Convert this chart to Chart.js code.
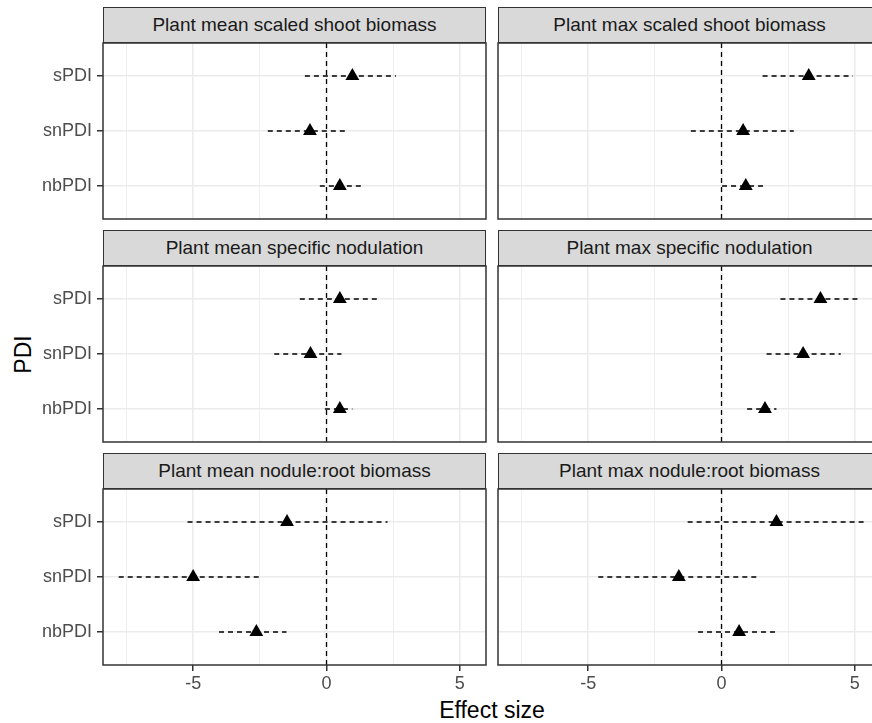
<!DOCTYPE html>
<html lang="en">
<head>
    <meta charset="UTF-8">
    <title>Effect size by PDI</title>
    <script src="https://cdn.jsdelivr.net/npm/chart.js"></script>
    <style>
        body {
            margin: 0;
            width: 872px;
            height: 723px;
            position: relative;
            overflow: hidden;
            background: #fff;
            font-family: "Liberation Sans", Arial, sans-serif;
        }
        canvas {
            position: absolute;
        }
        .strip {
            position: absolute;
            height: 36px;
            box-sizing: border-box;
            background: #D9D9D9;
            border: 1.5px solid #333;
            color: #1A1A1A;
            font-size: 19px;
            display: flex;
            align-items: center;
            justify-content: center;
            white-space: nowrap;
        }
        .xtitle {
            position: absolute;
            left: 392px;
            width: 200px;
            top: 699px;
            text-align: center;
            font-size: 23px;
            line-height: 23px;
            color: #000;
        }
        .ytitle {
            position: absolute;
            left: -27px;
            top: 343px;
            width: 100px;
            height: 23px;
            text-align: center;
            font-size: 23px;
            line-height: 23px;
            color: #000;
            transform: rotate(-90deg);
        }
    </style>
</head>
<body>
    <div class="xtitle">Effect size</div>
    <div class="ytitle">PDI</div>

    <script>
        // categories from bottom to top (y = 1, 2, 3)
        const categories = ['nbPDI', 'snPDI', 'sPDI'];

        const panelTitles = [
            'Plant mean scaled shoot biomass',
            'Plant max scaled shoot biomass',
            'Plant mean specific nodulation',
            'Plant max specific nodulation',
            'Plant mean nodule:root biomass',
            'Plant max nodule:root biomass'
        ];

        // one row per panel, values in category order: nbPDI, snPDI, sPDI
        const pointEst = [
            [0.50, -0.62, 0.97],
            [0.91, 0.81, 3.27],
            [0.50, -0.60, 0.50],
            [1.63, 3.06, 3.71],
            [-2.63, -5.00, -1.48],
            [0.66, -1.60, 2.06]
        ];
        const lowerCI = [
            [-0.25, -2.20, -0.81],
            [0.02, -1.15, 1.54],
            [-0.06, -1.96, -1.00],
            [0.96, 1.69, 2.21],
            [-4.03, -7.79, -5.21],
            [-0.88, -4.62, -1.27]
        ];
        const upperCI = [
            [1.29, 0.80, 2.60],
            [1.56, 2.71, 4.93],
            [0.97, 0.56, 1.97],
            [2.06, 4.47, 5.12],
            [-1.50, -2.50, 2.29],
            [2.08, 1.35, 5.35]
        ];

        const majorTicks = [-5, 0, 5];
        const minorTicks = [-7.5, -2.5, 2.5];
        const refLine = 0;
        const xMin = -8.38, xMax = 5.98;
        const yMin = 0.4, yMax = 3.6;

        // panel layout (plot areas)
        const colLeft = [103, 498];
        const rowTop = [43, 266, 489];
        const panelW = 383, panelH = 176;
        const pad = 2; // room so the panel border isn't clipped
        const fontFamily = '"Liberation Sans", Arial, sans-serif';

        const isMinor = v => minorTicks.includes(v);

        const panelBorder = {
            id: 'panelBorder',
            afterDatasetsDraw(chart) {
                const a = chart.chartArea;
                const ctx = chart.ctx;
                ctx.save();
                ctx.strokeStyle = '#333';
                ctx.lineWidth = 1.5;
                ctx.strokeRect(a.left, a.top, a.right - a.left, a.bottom - a.top);
                ctx.restore();
            }
        };

        function dashedLine(points) {
            return {
                type: 'scatter',
                data: points,
                showLine: true,
                borderColor: '#000',
                borderWidth: 1.3,
                borderDash: [5, 4],
                pointRadius: 0,
                fill: false
            };
        }

        for (let p = 0; p < 6; p++) {
            const col = p % 2, row = Math.floor(p / 2);
            const hasY = col === 0, hasX = row === 2;
            const axW = hasY ? 103 : 0;
            const axH = hasX ? 40 : 0;

            // strip
            const strip = document.createElement('div');
            strip.className = 'strip';
            strip.style.left = colLeft[col] + 'px';
            strip.style.top = (rowTop[row] - 36) + 'px';
            strip.style.width = panelW + 'px';
            strip.textContent = panelTitles[p];
            document.body.appendChild(strip);

            const canvas = document.createElement('canvas');
            canvas.width = panelW + axW + 2 * pad;
            canvas.height = panelH + axH + 2 * pad;
            canvas.style.left = (colLeft[col] - axW - pad) + 'px';
            canvas.style.top = (rowTop[row] - pad) + 'px';
            document.body.appendChild(canvas);

            const datasets = [];
            // triangles first so they are drawn on top
            datasets.push({
                type: 'scatter',
                data: categories.map((c, i) => ({ x: pointEst[p][i], y: i + 1 })),
                pointStyle: 'triangle',
                pointRadius: 8,
                backgroundColor: '#000',
                borderColor: '#000',
                borderWidth: 0
            });
            categories.forEach((c, i) => {
                datasets.push(dashedLine([
                    { x: lowerCI[p][i], y: i + 1 },
                    { x: upperCI[p][i], y: i + 1 }
                ]));
            });
            datasets.push(dashedLine([{ x: refLine, y: yMin }, { x: refLine, y: yMax }]));

            new Chart(canvas, {
                type: 'scatter',
                data: { datasets: datasets },
                options: {
                    responsive: false,
                    animation: false,
                    events: [],
                    layout: { padding: pad, autoPadding: false },
                    plugins: {
                        legend: { display: false },
                        tooltip: { enabled: false }
                    },
                    scales: {
                        x: {
                            type: 'linear',
                            min: xMin,
                            max: xMax,
                            afterBuildTicks: s => {
                                s.ticks = minorTicks.concat(majorTicks).sort((a, b) => a - b).map(v => ({ value: v }));
                            },
                            afterFit: s => {
                                s.height = axH;
                                s.paddingLeft = 0;
                                s.paddingRight = 0;
                            },
                            border: { display: false },
                            grid: {
                                color: '#EBEBEB',
                                lineWidth: c => (c.tick && isMinor(c.tick.value)) ? 0.8 : 1.5,
                                drawTicks: hasX,
                                tickLength: 6,
                                tickWidth: 1.5,
                                tickColor: c => (c.tick && isMinor(c.tick.value)) ? 'rgba(0,0,0,0)' : '#333'
                            },
                            ticks: {
                                display: hasX,
                                autoSkip: false,
                                maxRotation: 0,
                                padding: 2,
                                color: '#4D4D4D',
                                font: { family: fontFamily, size: 18 },
                                callback: v => majorTicks.includes(v) ? String(v) : ''
                            }
                        },
                        y: {
                            type: 'linear',
                            min: yMin,
                            max: yMax,
                            afterBuildTicks: s => {
                                s.ticks = categories.map((c, i) => ({ value: i + 1 }));
                            },
                            afterFit: s => {
                                s.width = axW;
                                s.paddingTop = 0;
                                s.paddingBottom = 0;
                            },
                            border: { display: false },
                            grid: {
                                color: '#EBEBEB',
                                lineWidth: 1.5,
                                drawTicks: hasY,
                                tickLength: 6,
                                tickWidth: 1.5,
                                tickColor: '#333'
                            },
                            ticks: {
                                display: hasY,
                                autoSkip: false,
                                padding: 5,
                                color: '#4D4D4D',
                                font: { family: fontFamily, size: 18 },
                                callback: v => categories[v - 1]
                            }
                        }
                    }
                },
                plugins: [panelBorder]
            });
        }
    </script>
</body>
</html>
